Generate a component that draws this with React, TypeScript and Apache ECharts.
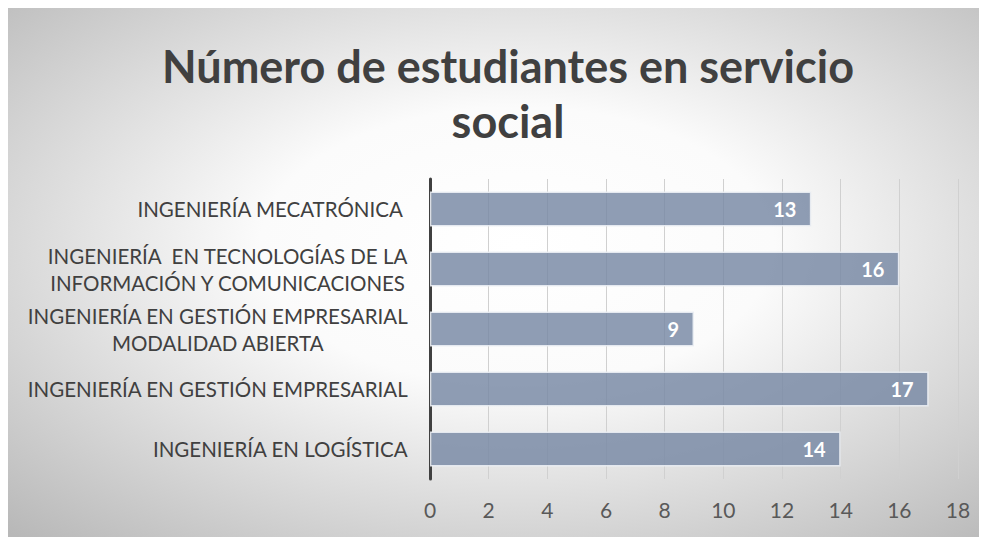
import React, { useEffect, useRef } from "react";
import * as echarts from "echarts";

const categories = [
  "INGENIERÍA MECATRÓNICA ",
  "INGENIERÍA  EN TECNOLOGÍAS DE LA\nINFORMACIÓN Y COMUNICACIONES",
  "INGENIERÍA EN GESTIÓN EMPRESARIAL\nMODALIDAD ABIERTA",
  "INGENIERÍA EN GESTIÓN EMPRESARIAL",
  "INGENIERÍA EN LOGÍSTICA",
];
const values = [13, 16, 9, 17, 14];
const titleText = "Número de estudiantes en servicio\nsocial";

const FONT = "Lato";

export default function App() {
  const ref = useRef<HTMLDivElement>(null);
  useEffect(() => {
    document.body.style.overflow = "hidden";
    const chart = echarts.init(ref.current!, null, { renderer: "svg" });
    chart.setOption({
      animation: false,
      backgroundColor: new echarts.graphic.RadialGradient(0.52, 0.45, 0.75, [
        { offset: 0, color: "#ffffff" },
        { offset: 0.35, color: "#fbfbfb" },
        { offset: 1, color: "#b8b8b8" },
      ]),
      title: {
        text: titleText,
        left: 495,
        textAlign: "center",
        top: 25,
        textStyle: {
          fontFamily: FONT,
          fontWeight: "bold",
          fontSize: 45,
          lineHeight: 55,
          color: "#404040",
        },
      },
      grid: { left: 422, right: 29, top: 171, bottom: 58, containLabel: false },
      xAxis: {
        type: "value",
        min: 0,
        max: 18,
        interval: 2,
        axisLine: { show: false },
        axisTick: { show: false },
        splitLine: { show: true, lineStyle: { color: "#d0d0d0", width: 1 } },
        axisLabel: {
          margin: 20,
          fontFamily: FONT,
          fontSize: 21,
          color: "#595959",
        },
      },
      yAxis: {
        type: "category",
        data: categories,
        inverse: true,
        axisLine: { show: true, lineStyle: { color: "#404040", width: 3 } },
        axisTick: { show: false },
        axisLabel: {
          margin: 22,
          fontFamily: FONT,
          fontSize: 20.5,
          color: "#404040",
          lineHeight: 27,
          formatter: (v: string) =>
            v
              .split("\n")
              .map((l) => `{c|${l}}`)
              .join("\n"),
          rich: {
            c: {
              align: "center",
              fontFamily: FONT,
              fontSize: 20.5,
              color: "#404040",
              lineHeight: 27,
            },
          },
        },
      },
      series: [
        {
          type: "bar",
          data: values,
          barWidth: 35,
          itemStyle: {
            color: "rgba(118,136,164,0.82)",
            borderColor: "rgba(235,238,244,0.9)",
            borderWidth: 1.5,
          },
          label: {
            show: true,
            position: "insideRight",
            distance: 15,
            fontFamily: FONT,
            fontWeight: "bold",
            fontSize: 20,
            color: "#ffffff",
          },
        },
      ],
    });
    return () => chart.dispose();
  }, []);
  return <div ref={ref} style={{ width: 979, height: 529 }} />;
}
